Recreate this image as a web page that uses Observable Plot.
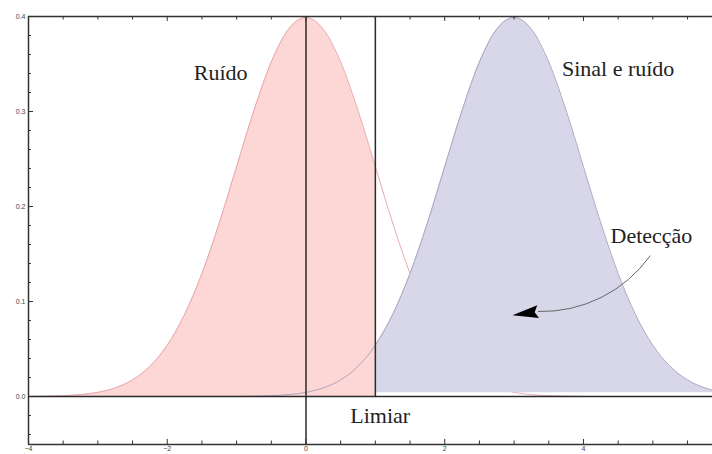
<!DOCTYPE html>
<html><head><meta charset="utf-8">
<script src="https://cdn.jsdelivr.net/npm/d3@7"></script>
<script src="https://cdn.jsdelivr.net/npm/@observablehq/plot@0.6"></script>
<style>body{margin:0;background:#fff}</style>
</head><body><div id="chart"></div>
<script>
// x positions of the sampled curves
const xs = [-4,-3.75,-3.5,-3.25,-3,-2.75,-2.5,-2.25,-2,-1.75,-1.5,-1.25,-1,-0.75,-0.5,-0.25,
  0,0.25,0.5,0.75,1,1.25,1.5,1.75,2,2.25,2.5,2.75,3,3.25,3.5,3.75,4,4.25,4.5,4.75,5,5.25,5.5,5.75,6];
// "Ruído" curve
const noise = [0.0001,0.0004,0.0009,0.0020,0.0044,0.0091,0.0175,0.0317,0.0540,0.0863,0.1295,0.1826,0.2420,0.3011,0.3521,0.3867,
  0.3989,0.3867,0.3521,0.3011,0.2420,0.1826,0.1295,0.0863,0.0540,0.0317,0.0175,0.0091,0.0044,0.0020,0.0009,0.0004,0.0001,0,0,0,0,0,0,0,0];
// "Sinal e ruído" curve
const signal = [0,0,0,0,0,0,0,0,0,0,0,0,0.0001,0.0004,0.0009,0.0020,
  0.0044,0.0091,0.0175,0.0317,0.0540,0.0863,0.1295,0.1826,0.2420,0.3011,0.3521,0.3867,0.3989,0.3867,0.3521,0.3011,0.2420,0.1826,0.1295,0.0863,0.0540,0.0317,0.0175,0.0091,0.0044];
const threshold = 1;
const signalBase = 0.004;
const xDomain = [-4, 5.86];
const yDomain = [-0.0505, 0.4];
const xMajor = [-4, -2, 0, 2, 4];
const xMinor = [-3.5,-3,-2.5,-1.5,-1,-0.5,0.5,1,1.5,2.5,3,3.5,4.5,5,5.5];
const yMajor = [0, 0.1, 0.2, 0.3, 0.4];
const yMinor = [-0.04,-0.02,0.02,0.04,0.06,0.08,0.12,0.14,0.16,0.18,0.22,0.24,0.26,0.28,0.32,0.34,0.36,0.38];
const labelText = ["Ruído", "Sinal e ruído", "Detecção", "Limiar"];
const labelX = [-1.23, 4.50, 4.98, 1.07];
const labelY = [0.341, 0.345, 0.1695, -0.020];
const arrowFrom = [4.96, 0.148];
const arrowTo = [3.35, 0.0895];
const arrowHead = [3.161, 0.0874];

const noiseRows = xs.map((x, i) => ({x, y: noise[i]}));
const signalRows = xs.map((x, i) => ({x, y: signal[i]}));
const labels = labelText.map((t, i) => ({t, x: labelX[i], y: labelY[i]}));

const headSymbol = {
  draw(ctx) {
    ctx.moveTo(-13, 0);
    ctx.lineTo(13, -6.5);
    ctx.lineTo(9.5, 0);
    ctx.lineTo(13, 6.5);
    ctx.closePath();
  }
};

const ink = "#2a2a2a";
const chart = Plot.plot({
  width: 712, height: 454,
  marginLeft: 28, marginRight: 0, marginTop: 16, marginBottom: 10,
  style: {fontFamily: "Liberation Sans, sans-serif", background: "#fff"},
  x: {domain: xDomain},
  y: {domain: yDomain},
  marks: [
    Plot.areaY(noiseRows.filter(d => d.x <= threshold), {x: "x", y: "y", fill: "#fdd6d6", curve: "monotone-x"}),
    Plot.line(noiseRows, {x: "x", y: "y", stroke: "#e3a4a8", strokeWidth: 0.9, curve: "monotone-x", clip: true}),
    Plot.areaY(signalRows.filter(d => d.x >= threshold), {x: "x", y1: signalBase, y2: "y", fill: "#d7d7e9", curve: "monotone-x", clip: true}),
    Plot.line(signalRows, {x: "x", y: "y", stroke: "#a79fbb", strokeWidth: 0.9, curve: "monotone-x", clip: true}),
    Plot.ruleY([0], {stroke: ink, strokeWidth: 1.5}),
    Plot.ruleX([0], {stroke: ink, strokeWidth: 1.5}),
    Plot.ruleX([threshold], {y1: 0, y2: yDomain[1], stroke: ink, strokeWidth: 1.5}),
    // frame lines
    Plot.ruleX([xDomain[0]], {stroke: "#333", strokeWidth: 1.5}),
    Plot.ruleY(yDomain, {stroke: "#333", strokeWidth: 1.5}),
    // inward ticks
    Plot.ruleX(xMajor, {x: d => d, y1: yDomain[0], y2: yDomain[0], insetBottom: 5, stroke: "#333"}),
    Plot.ruleX(xMinor, {x: d => d, y1: yDomain[0], y2: yDomain[0], insetBottom: 3.5, stroke: "#333"}),
    Plot.ruleX(xMajor, {x: d => d, y1: yDomain[1], y2: yDomain[1], insetTop: 5, stroke: "#333"}),
    Plot.ruleX(xMinor, {x: d => d, y1: yDomain[1], y2: yDomain[1], insetTop: 3.5, stroke: "#333"}),
    Plot.ruleY(yMajor, {y: d => d, x1: xDomain[0], x2: xDomain[0], insetLeft: 5, stroke: "#333"}),
    Plot.ruleY(yMinor, {y: d => d, x1: xDomain[0], x2: xDomain[0], insetLeft: 3, stroke: "#333"}),
    Plot.axisX({ticks: xMajor, tickSize: 0, tickPadding: 2, fontSize: 7, fill: "#444", tickFormat: d => d3.format("d")(d)}),
    Plot.axisY({ticks: yMajor, tickSize: 0, tickPadding: 3, fontSize: 7, fill: "#444", tickFormat: d3.format(".1f")}),
    Plot.text(labels, {x: "x", y: "y", text: "t", fontFamily: "Liberation Serif, serif", fontSize: 22, fill: "#222", textAnchor: "middle", lineAnchor: "middle"}),
    Plot.arrow([{x1: arrowFrom[0], y1: arrowFrom[1], x2: arrowTo[0], y2: arrowTo[1]}],
      {x1: "x1", y1: "y1", x2: "x2", y2: "y2", bend: 28, headLength: 0, stroke: "#666", strokeWidth: 1}),
    Plot.dot([{x: arrowHead[0], y: arrowHead[1]}], {x: "x", y: "y", symbol: headSymbol, r: 5, fill: "#000", stroke: "none", rotate: -8})
  ]
});
document.getElementById("chart").append(chart);
</script>
</body></html>
